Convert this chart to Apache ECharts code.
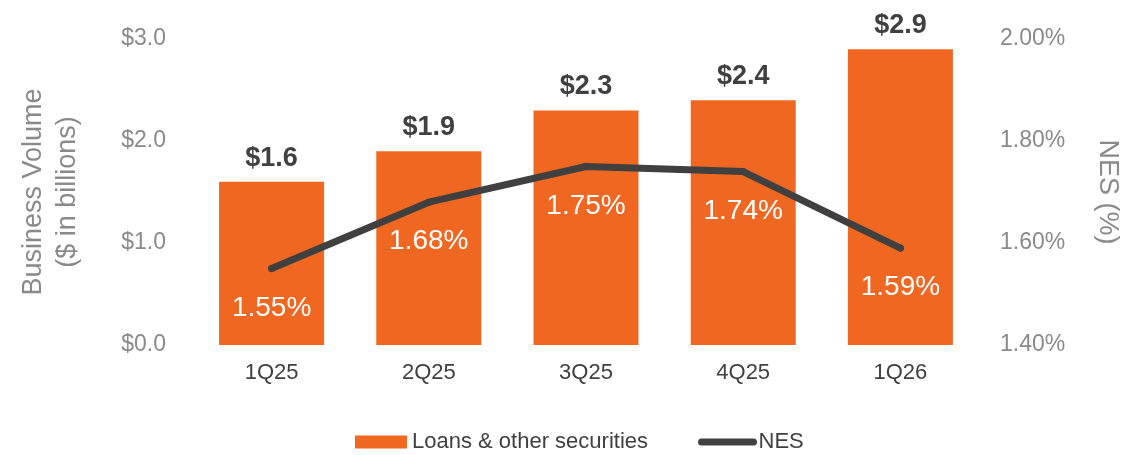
<!DOCTYPE html>
<html>
<head>
<meta charset="utf-8">
<script src="https://cdn.jsdelivr.net/npm/echarts@6/dist/echarts.min.js"></script>
<style>
  html, body { margin: 0; padding: 0; background: #fff; }
  #chart { width: 1145px; height: 455px; }
</style>
</head>
<body>
<div id="chart"></div>
<script>
const quarters = ['1Q25', '2Q25', '3Q25', '4Q25', '1Q26'];
const businessVolume = [1.6, 1.9, 2.3, 2.4, 2.9];
const nesPct = [1.55, 1.68, 1.75, 1.74, 1.59];

const FONT = "'Liberation Sans', Arial, sans-serif";
const ORANGE = '#F06722';
const DARK = '#404040';
const GREY = '#8a8a8a';

const myChart = echarts.init(document.getElementById('chart'));

const option = {
  animation: false,
  textStyle: { fontFamily: FONT },
  grid: {
    left: 193,
    right: 166,
    top: 39,
    bottom: 110
  },
  legend: {
    data: [
      { name: 'Loans & other securities', icon: 'rect' },
      {
        name: 'NES',
        lineStyle: { width: 7, cap: 'round', color: DARK },
        itemStyle: { opacity: 0 }
      }
    ],
    left: 350,
    bottom: -3,
    itemWidth: 52,
    itemHeight: 13,
    itemGap: 50,
    textStyle: { fontSize: 22, color: DARK, fontFamily: FONT }
  },
  xAxis: {
    type: 'category',
    data: quarters,
    axisLine: { show: false },
    axisTick: { show: false },
    axisLabel: { fontSize: 22, color: DARK, margin: 17 }
  },
  yAxis: [
    {
      type: 'value',
      min: 0,
      max: 3,
      interval: 1,
      name: 'Business Volume\n($ in billions)',
      nameLocation: 'middle',
      nameGap: 108,
      nameTextStyle: { fontSize: 27, color: GREY, lineHeight: 34 },
      splitLine: { show: false },
      axisLabel: {
        fontSize: 23,
        color: GREY,
        margin: 27,
        formatter: v => '$' + v.toFixed(1)
      }
    },
    {
      type: 'value',
      min: 1.4,
      max: 2.0,
      interval: 0.2,
      name: 'NES (%)',
      nameLocation: 'middle',
      nameRotate: -90,
      nameGap: 115,
      nameTextStyle: { fontSize: 27, color: GREY },
      splitLine: { show: false },
      axisLabel: {
        fontSize: 23,
        color: GREY,
        margin: 21,
        formatter: v => v.toFixed(2) + '%'
      }
    }
  ],
  series: [
    {
      name: 'Loans & other securities',
      type: 'bar',
      data: businessVolume,
      barWidth: 105,
      itemStyle: { color: ORANGE },
      label: {
        show: true,
        position: 'top',
        distance: 10,
        fontSize: 27,
        fontWeight: 'bold',
        color: DARK,
        formatter: p => '$' + p.value.toFixed(1)
      }
    },
    {
      name: 'NES',
      type: 'line',
      yAxisIndex: 1,
      data: nesPct,
      symbol: 'circle',
      symbolSize: 7,
      itemStyle: { color: DARK },
      lineStyle: { color: DARK, width: 7, cap: 'round', join: 'round' },
      label: {
        show: true,
        position: 'bottom',
        distance: 22,
        fontSize: 28,
        color: '#ffffff',
        formatter: p => p.value.toFixed(2) + '%'
      }
    }
  ]
};

myChart.setOption(option);
window.addEventListener('resize', () => myChart.resize());
</script>
</body>
</html>
